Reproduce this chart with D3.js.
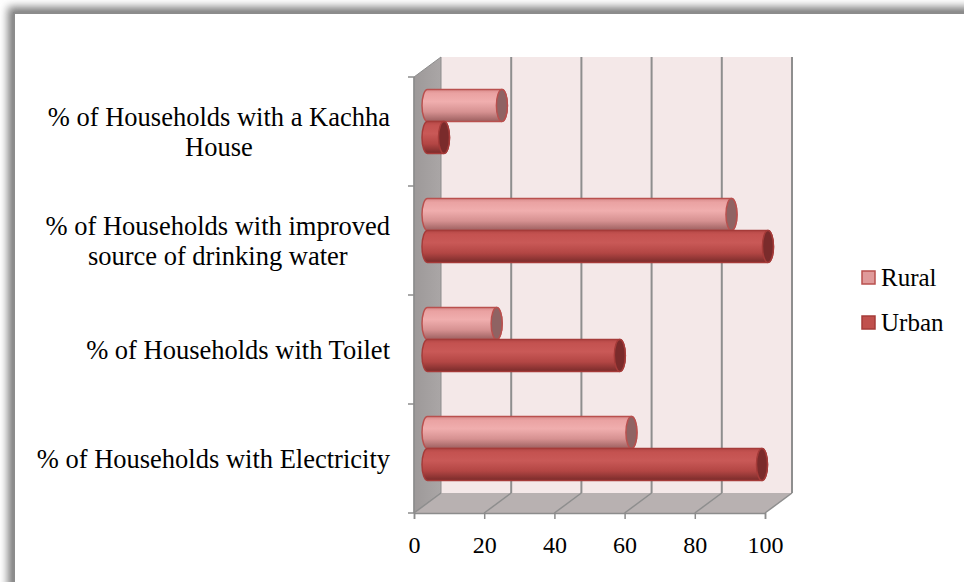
<!DOCTYPE html>
<html>
<head>
<meta charset="utf-8">
<script src="https://cdn.jsdelivr.net/npm/d3@7/dist/d3.min.js"></script>
<style>
  body { margin: 0; background: #fff; }
  svg { display: block; font-family: "Liberation Serif", "Times New Roman", serif; }
</style>
</head>
<body>
<svg width="964" height="582"></svg>
<script>
// chart data
var categories = [
  ["% of Households with a Kachha", "House"],
  ["% of Households with improved", "source of drinking water"],
  ["% of Households with Toilet"],
  ["% of Households with Electricity"],
];
var rural = [21.2, 86.6, 19.7, 58.1];
var urban = [4.7, 97, 54.8, 95.3];
var xTicks = [0, 20, 40, 60, 80, 100];
var seriesNames = ["Rural", "Urban"];

var svg = d3.select("svg");
var defs = svg.append("defs");

//Frame shadow
var blur = defs.append("filter").attr("id", "frameShadow")
  .attr("x", "-10%").attr("y", "-10%").attr("width", "120%").attr("height", "120%");
blur.append("feGaussianBlur").attr("stdDeviation", 4);

svg.append("rect")
  .attr("x", 8).attr("y", 7).attr("width", 1000).attr("height", 620)
  .attr("fill", "#7a7a7a")
  .attr("filter", "url(#frameShadow)");
svg.append("rect")
  .attr("x", 14).attr("y", 13).attr("width", 1000).attr("height", 620)
  .attr("fill", "#fff").attr("stroke", "#8c8c8c").attr("stroke-width", 2);

//Gradients for the cylinders
function addGradient(id, stops) {
  var g = defs.append("linearGradient").attr("id", id)
    .attr("x1", 0).attr("y1", 0).attr("x2", 0).attr("y2", 1);
  stops.forEach(function (s) {
    g.append("stop").attr("offset", s[0]).attr("stop-color", s[1]);
  });
}
addGradient("ruralGrad", [[0, "#d98c8c"], [0.12, "#eaa2a2"], [0.38, "#f0aeae"], [0.7, "#d69191"], [1, "#9c5f5f"]]);
addGradient("urbanGrad", [[0, "#b44846"], [0.12, "#c45250"], [0.38, "#c95957"], [0.7, "#b34644"], [1, "#792b2a"]]);

var wallGrad = defs.append("linearGradient").attr("id", "wallGrad")
  .attr("x1", 0).attr("y1", 0).attr("x2", 1).attr("y2", 0);
wallGrad.append("stop").attr("offset", 0).attr("stop-color", "#9d9999");
wallGrad.append("stop").attr("offset", 1).attr("stop-color", "#aaa6a6");

//3D box geometry
var front = { left: 414, right: 765, top: 77, bottom: 513 };
var depth = { dx: 27, dy: -20 };

var xFront = d3.scaleLinear().domain([0, 100]).range([front.left, front.right]);
var xBack = d3.scaleLinear().domain([0, 100]).range([front.left + depth.dx, front.right + depth.dx]);
var xMid = d3.scaleLinear().domain([0, 100]).range([front.left + depth.dx / 2, front.right + depth.dx / 2]);

var yScale = d3.scaleBand()
  .domain(d3.range(categories.length))
  .range([front.top, front.bottom]);

var backTop = front.top + depth.dy;
var backBottom = front.bottom + depth.dy;

//Back wall
svg.append("rect")
  .attr("x", xBack(0)).attr("y", backTop)
  .attr("width", xBack(100) - xBack(0))
  .attr("height", backBottom - backTop)
  .attr("fill", "#f4e8e8");

//Left wall
svg.append("polygon")
  .attr("points", [
    [xFront(0), front.top], [xBack(0), backTop],
    [xBack(0), backBottom], [xFront(0), front.bottom]
  ].join(" "))
  .attr("fill", "url(#wallGrad)")
  .attr("stroke", "#8c8c8c").attr("stroke-width", 1);

//Floor
svg.append("polygon")
  .attr("points", [
    [xFront(0), front.bottom], [xBack(0), backBottom],
    [xBack(100), backBottom], [xFront(100), front.bottom]
  ].join(" "))
  .attr("fill", "#b8b1b1");

//Gridlines on back wall and floor
var gridTicks = xTicks.slice(1);
svg.selectAll(".grid-back")
  .data(gridTicks)
  .join("line")
  .attr("class", "grid-back")
  .attr("x1", (d) => xBack(d)).attr("x2", (d) => xBack(d))
  .attr("y1", backTop).attr("y2", backBottom)
  .attr("stroke", "#8e8e8e").attr("stroke-width", 2);

svg.selectAll(".grid-floor")
  .data(xTicks)
  .join("line")
  .attr("class", "grid-floor")
  .attr("x1", (d) => xBack(d)).attr("x2", (d) => xFront(d))
  .attr("y1", backBottom).attr("y2", front.bottom)
  .attr("stroke", "#8e8e8e").attr("stroke-width", 1.5);

//Y axis line and ticks at band edges
svg.append("line")
  .attr("x1", front.left).attr("x2", front.left)
  .attr("y1", front.top).attr("y2", front.bottom)
  .attr("stroke", "#8c8c8c").attr("stroke-width", 1.5);

var yEdges = yScale.domain().map((d) => yScale(d)).concat([front.bottom]);
svg.selectAll(".y-tick")
  .data(yEdges)
  .join("line")
  .attr("class", "y-tick")
  .attr("x1", front.left - 6).attr("x2", front.left)
  .attr("y1", (d) => d).attr("y2", (d) => d)
  .attr("stroke", "#8c8c8c").attr("stroke-width", 1.5);

//X axis
var xAxis = d3.axisBottom(xFront).tickValues(xTicks).tickSize(6).tickPadding(17);
var xAxisG = svg.append("g")
  .attr("transform", `translate(0, ${front.bottom})`)
  .call(xAxis);
xAxisG.select(".domain").attr("stroke", "#8c8c8c").attr("stroke-width", 1.5);
xAxisG.selectAll(".tick line").attr("stroke", "#8c8c8c").attr("stroke-width", 1.5);
xAxisG.selectAll(".tick text")
  .attr("font-family", "Liberation Serif, Times New Roman, serif")
  .attr("font-size", 24).attr("fill", "#000");

//Category labels
var labelRight = front.left - 24;
categories.forEach(function (lines, i) {
  var cy = yScale(i) + yScale.bandwidth() / 2;
  var lineH = 30;
  var g = svg.append("g").attr("class", "cat-label");
  var texts = lines.map(function (t, j) {
    return g.append("text")
      .attr("font-size", 26.5)
      .attr("fill", "#000")
      .attr("text-anchor", "middle")
      .attr("y", cy + (j - (lines.length - 1) / 2) * lineH + 9)
      .text(t);
  });
  var w = d3.max(texts, (t) => t.node().getComputedTextLength());
  texts.forEach((t) => t.attr("x", labelRight - w / 2));
});

//Cylinders
var barH = 32;
var capRx = 5.5;
function cylinderPath(x0, x1, y) {
  var r = barH / 2;
  return `M${x0},${y} L${x1},${y} A${capRx},${r} 0 0 1 ${x1},${y + barH} ` +
    `L${x0},${y + barH} A${capRx},${r} 0 0 1 ${x0},${y} Z`;
}

var series = [
  { name: "Rural", values: rural, fill: "url(#ruralGrad)", stroke: "#b9504e", cap: "#8f6363" },
  { name: "Urban", values: urban, fill: "url(#urbanGrad)", stroke: "#a53b39", cap: "#7a2b2b" },
];

categories.forEach(function (c, i) {
  var midCenter = yScale(i) + yScale.bandwidth() / 2 + depth.dy / 2;
  series.forEach(function (s, k) {
    var y = midCenter - barH + k * barH;
    var x0 = xMid(0), x1 = xMid(s.values[i]);
    svg.append("path")
      .attr("d", cylinderPath(x0, x1, y))
      .attr("fill", s.fill)
      .attr("stroke", s.stroke).attr("stroke-width", 1.5);
    svg.append("ellipse")
      .attr("cx", x1).attr("cy", y + barH / 2)
      .attr("rx", capRx).attr("ry", barH / 2)
      .attr("fill", s.cap)
      .attr("stroke", s.stroke).attr("stroke-width", 1.5);
  });
});

//Legend
var legend = svg.append("g").attr("transform", "translate(862, 271)");
legend.selectAll(".legend-rect")
  .data(series)
  .join("rect")
  .attr("class", "legend-rect")
  .attr("x", 0)
  .attr("y", (d, i) => i * 45)
  .attr("width", 13).attr("height", 13)
  .attr("fill", (d) => d.name === "Rural" ? "#e09a9a" : "#c0504d")
  .attr("stroke", (d) => d.stroke).attr("stroke-width", 1.5);
legend.selectAll(".legend-label")
  .data(seriesNames)
  .join("text")
  .attr("class", "legend-label")
  .attr("x", 19)
  .attr("y", (d, i) => i * 45 + 15)
  .attr("font-size", 25)
  .attr("fill", "#000")
  .text((d) => d);
</script>
</body>
</html>
